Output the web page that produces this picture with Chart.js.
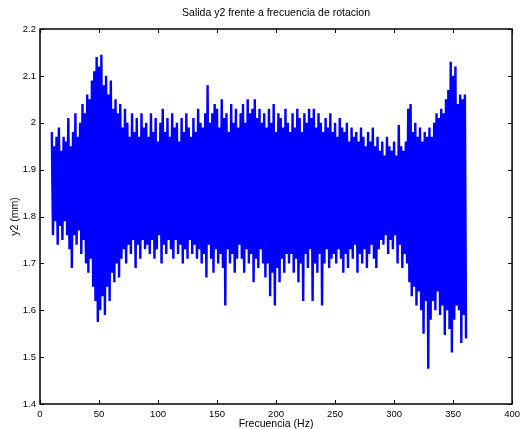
<!DOCTYPE html>
<html lang="es">
<head>
<meta charset="utf-8">
<title>Salida y2 frente a frecuencia de rotacion</title>
<script src="https://cdn.jsdelivr.net/npm/chart.js@4"></script>
<style>
  body { margin: 0; background: #fff; }
</style>
</head>
<body>
<canvas id="chartCanvas" width="525" height="429"></canvas>
<script>
// frequency grid (Hz), one sample every 2 Hz
const freq = [
  10, 12, 14, 16, 18, 20, 22, 24, 26, 28,
  30, 32, 34, 36, 38, 40, 42, 44, 46, 48,
  50, 52, 54, 56, 58, 60, 62, 64, 66, 68,
  70, 72, 74, 76, 78, 80, 82, 84, 86, 88,
  90, 92, 94, 96, 98, 100, 102, 104, 106, 108,
  110, 112, 114, 116, 118, 120, 122, 124, 126, 128,
  130, 132, 134, 136, 138, 140, 142, 144, 146, 148,
  150, 152, 154, 156, 158, 160, 162, 164, 166, 168,
  170, 172, 174, 176, 178, 180, 182, 184, 186, 188,
  190, 192, 194, 196, 198, 200, 202, 204, 206, 208,
  210, 212, 214, 216, 218, 220, 222, 224, 226, 228,
  230, 232, 234, 236, 238, 240, 242, 244, 246, 248,
  250, 252, 254, 256, 258, 260, 262, 264, 266, 268,
  270, 272, 274, 276, 278, 280, 282, 284, 286, 288,
  290, 292, 294, 296, 298, 300, 302, 304, 306, 308,
  310, 312, 314, 316, 318, 320, 322, 324, 326, 328,
  330, 332, 334, 336, 338, 340, 342, 344, 346, 348,
  350, 352, 354, 356, 358, 360
];

const y2High = [
  1.98, 1.95, 1.97, 1.99, 1.94, 1.97, 1.96, 2.01, 1.95, 1.98,
  2.02, 1.97, 2.00, 2.04, 2.02, 2.06, 2.05, 2.09, 2.11, 2.14,
  2.12, 2.145, 2.08, 2.10, 2.06, 2.09, 2.03, 2.05, 2.02, 2.04,
  1.99, 2.03, 2.00, 1.97, 2.02, 1.98, 2.01, 1.97, 2.02, 1.99,
  2.00, 1.97, 2.02, 1.98, 2.01, 1.96, 2.00, 2.03, 1.98, 2.01,
  1.97, 2.02, 1.99, 2.00, 1.96, 2.01, 1.98, 2.02, 1.99, 1.97,
  2.01, 1.98, 2.03, 2.00, 1.99, 2.02, 2.08, 2.00, 2.02, 2.04,
  2.03, 1.99, 2.05, 2.01, 2.02, 1.98, 2.04, 2.00, 2.03, 1.99,
  2.02, 2.04, 2.00, 2.05, 2.02, 2.03, 2.05, 2.01, 2.03, 2.00,
  2.02, 1.99, 2.03, 2.00, 2.04, 1.98, 2.02, 2.01, 1.99, 2.03,
  2.00, 1.98, 2.02, 1.99, 2.03, 2.01, 1.98, 2.02, 2.00, 2.03,
  2.01, 2.03, 1.99, 2.02, 2.00, 1.98, 2.01, 1.99, 2.02, 1.98,
  2.00, 1.97, 2.01, 1.99, 1.98, 2.00, 1.96, 1.99, 1.97, 1.98,
  1.96, 1.99, 1.97, 1.95, 1.98, 1.96, 1.99, 1.95, 1.97, 1.94,
  1.96, 1.93, 1.97, 1.95, 1.94, 1.96, 1.93, 1.995, 1.95, 1.94,
  1.96, 2.03, 2.04, 1.98, 2.00, 1.97, 1.99, 1.96, 1.98, 1.97,
  1.99, 1.97, 2.00, 2.02, 2.01, 2.03, 2.02, 2.05, 2.07, 2.13,
  2.10, 2.12, 2.04, 2.06, 2.05, 2.06
];

const y2Low = [
  1.76, 1.79, 1.74, 1.78, 1.75, 1.79, 1.76, 1.73, 1.69, 1.76,
  1.74, 1.77, 1.72, 1.75, 1.70, 1.68, 1.71, 1.65, 1.62, 1.575,
  1.60, 1.63, 1.59, 1.65, 1.62, 1.68, 1.66, 1.70, 1.67, 1.71,
  1.73, 1.70, 1.74, 1.72, 1.75, 1.69, 1.74, 1.71, 1.75, 1.73,
  1.74, 1.72, 1.75, 1.71, 1.73, 1.76, 1.70, 1.74, 1.72, 1.75,
  1.73, 1.71, 1.75, 1.72, 1.74, 1.70, 1.73, 1.71, 1.75, 1.72,
  1.74, 1.71, 1.73, 1.70, 1.72, 1.67, 1.74, 1.71, 1.68, 1.73,
  1.70, 1.72, 1.69, 1.61, 1.73, 1.70, 1.72, 1.68, 1.71, 1.74,
  1.71, 1.68, 1.73, 1.70, 1.72, 1.66, 1.71, 1.69, 1.73, 1.70,
  1.67, 1.70, 1.63, 1.68, 1.61, 1.69, 1.66, 1.71, 1.68, 1.72,
  1.70, 1.72, 1.68, 1.71, 1.66, 1.70, 1.62, 1.72, 1.69, 1.73,
  1.62, 1.70, 1.68, 1.72, 1.61, 1.70, 1.73, 1.69, 1.71, 1.72,
  1.70, 1.73, 1.71, 1.68, 1.72, 1.69, 1.73, 1.71, 1.74, 1.68,
  1.72, 1.70, 1.73, 1.69, 1.72, 1.74, 1.71, 1.69, 1.73, 1.75,
  1.74, 1.76, 1.72, 1.75, 1.73, 1.76, 1.70, 1.74, 1.69, 1.72,
  1.70, 1.66, 1.63, 1.65, 1.61, 1.64, 1.60, 1.55, 1.62, 1.475,
  1.58, 1.62, 1.60, 1.64, 1.59, 1.61, 1.547, 1.60, 1.56, 1.51,
  1.58, 1.61, 1.60, 1.53, 1.59, 1.54
];

const title = 'Salida y2 frente a frecuencia de rotacion';
const xLabel = 'Frecuencia (Hz)';
const yLabel = 'y2 (mm)';

// peak, then trough, then next peak... gives the dense trace
const points = [];
for (let i = 0; i < freq.length; i++) {
  points.push({ x: freq[i], y: y2High[i] });
  points.push({ x: freq[i] + 1, y: y2Low[i] });
}

// matlab style box: frame, ticks pointing in on all four sides, texts
const matlabBox = {
  id: 'matlabBox',
  afterDraw(chart) {
    const ctx = chart.ctx;
    const a = chart.chartArea;
    const xs = chart.scales.x;
    const ys = chart.scales.y;
    ctx.save();
    ctx.strokeStyle = '#000';
    ctx.lineWidth = 1;
    ctx.beginPath();
    xs.ticks.forEach(t => {
      const px = Math.round(xs.getPixelForValue(t.value)) + 0.5;
      ctx.moveTo(px, a.bottom); ctx.lineTo(px, a.bottom - 4);
      ctx.moveTo(px, a.top); ctx.lineTo(px, a.top + 4);
    });
    ys.ticks.forEach(t => {
      const py = Math.round(ys.getPixelForValue(t.value)) + 0.5;
      ctx.moveTo(a.left, py); ctx.lineTo(a.left + 4, py);
      ctx.moveTo(a.right, py); ctx.lineTo(a.right - 4, py);
    });
    ctx.stroke();
    ctx.lineWidth = 1.5;
    ctx.strokeRect(a.left, a.top, a.right - a.left, a.bottom - a.top);

    ctx.fillStyle = '#000';
    ctx.font = '10.5px "Liberation Sans", Arial, sans-serif';
    ctx.textAlign = 'center';
    ctx.textBaseline = 'middle';
    const cx = (a.left + a.right) / 2;
    ctx.fillText(title, cx, 13);
    ctx.textBaseline = 'top';
    ctx.fillText(xLabel, cx, 419);
    ctx.translate(15, (a.top + a.bottom) / 2);
    ctx.rotate(-Math.PI / 2);
    ctx.textBaseline = 'middle';
    ctx.fillText(yLabel, 0, 0);
    ctx.restore();
  }
};

const tickFont = { family: '"Liberation Sans", Arial, sans-serif', size: 9.5 };

new Chart(document.getElementById('chartCanvas'), {
  type: 'line',
  data: {
    datasets: [{
      data: points,
      borderColor: '#0000ff',
      borderWidth: 2.4,
      borderJoinStyle: 'miter',
      pointRadius: 0,
      tension: 0,
      fill: false
    }]
  },
  options: {
    responsive: false,
    animation: false,
    layout: { padding: { top: 29, right: 11, left: 0, bottom: 0 } },
    plugins: {
      legend: { display: false },
      tooltip: { enabled: false }
    },
    scales: {
      x: {
        type: 'linear',
        min: 0,
        max: 400,
        grid: { display: false, drawTicks: false },
        border: { display: false },
        ticks: { stepSize: 50, color: '#000', font: tickFont, padding: 5, maxRotation: 0 },
        afterFit(s) { s.height = 25; }
      },
      y: {
        min: 1.4,
        max: 2.2,
        grid: { display: false, drawTicks: false },
        border: { display: false },
        ticks: {
          stepSize: 0.1,
          color: '#000',
          font: tickFont,
          padding: 4,
          callback: v => String(+v.toFixed(1))
        },
        afterFit(s) { s.width = 40; }
      }
    }
  },
  plugins: [matlabBox]
});
</script>
</body>
</html>
